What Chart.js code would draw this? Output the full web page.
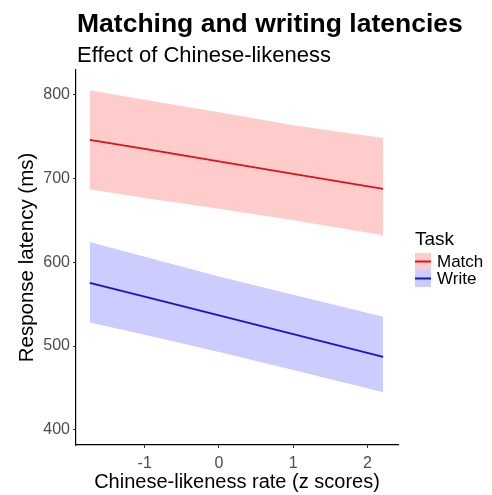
<!DOCTYPE html>
<html><head><meta charset="utf-8">
<script src="https://cdn.jsdelivr.net/npm/chart.js@4.4.0/dist/chart.umd.min.js"></script>
<style>html,body{margin:0;padding:0;background:#fff;}#wrap{width:492px;height:495px;}</style>
</head><body><div id="wrap"><canvas id="c" width="492" height="495"></canvas></div>
<script>
const xValues = [-1.74, -1, 0, 1, 2.21];
const matchFit = [745.8, 734.9, 720.1, 705.3, 687.4];
const matchUpper = [805, 793.5, 778.5, 763, 748];
const matchLower = [687, 676.5, 663.5, 650, 632];
const writeFit = [575.3, 558.8, 536.4, 514.1, 487.1];
const writeUpper = [624, 606.5, 583, 561, 535];
const writeLower = [528, 513.5, 493, 471.5, 445];
const xTicks = [-1, 0, 1, 2];
const yTicks = [400, 500, 600, 700, 800];
const seriesNames = ['Match', 'Write'];
const titleText = 'Matching and writing latencies';
const subtitleText = 'Effect of Chinese-likeness';
const legendTitle = 'Task';

const FONT = '"Liberation Sans", Arial, sans-serif';
const pts = arr => arr.map((v, i) => ({x: xValues[i], y: v}));
const matchLine = '#e0101c', matchFill = '#ffcccc';
const writeLine = '#1414cc', writeFill = '#ccccff';

const annot = {
  id: 'annot',
  afterDraw(chart) {
    const ctx = chart.ctx;
    ctx.save();
    ctx.textAlign = 'left';
    ctx.textBaseline = 'alphabetic';
    ctx.fillStyle = '#000';
    ctx.font = 'bold 26.5px ' + FONT;
    ctx.fillText(titleText, 77, 32);
    ctx.font = '22px ' + FONT;
    ctx.fillText(subtitleText, 77, 62);
    // legend
    ctx.font = '19px ' + FONT;
    ctx.fillText(legendTitle, 415, 245);
    const keys = [[matchFill, matchLine, 253], [writeFill, writeLine, 270]];
    keys.forEach((k, i) => {
      ctx.fillStyle = k[0];
      ctx.fillRect(415, k[2], 16, 17);
      ctx.strokeStyle = k[1];
      ctx.lineWidth = 2;
      ctx.beginPath();
      ctx.moveTo(415, k[2] + 8.5);
      ctx.lineTo(431, k[2] + 8.5);
      ctx.stroke();
      ctx.fillStyle = '#000';
      ctx.font = '17px ' + FONT;
      ctx.textBaseline = 'middle';
      ctx.fillText(seriesNames[i], 437, k[2] + 9);
      ctx.textBaseline = 'alphabetic';
    });
    ctx.restore();
  }
};

new Chart(document.getElementById('c'), {
  type: 'line',
  data: {
    datasets: [
      {data: pts(matchUpper), fill: 1, backgroundColor: matchFill, borderWidth: 0, pointRadius: 0, order: 2},
      {data: pts(matchLower), fill: false, borderWidth: 0, pointRadius: 0, order: 2},
      {data: pts(writeUpper), fill: 3, backgroundColor: writeFill, borderWidth: 0, pointRadius: 0, order: 2},
      {data: pts(writeLower), fill: false, borderWidth: 0, pointRadius: 0, order: 2},
      {label: seriesNames[0], data: pts(matchFit), borderColor: matchLine, borderWidth: 1.8, pointRadius: 0, fill: false, order: 0},
      {label: seriesNames[1], data: pts(writeFit), borderColor: writeLine, borderWidth: 1.8, pointRadius: 0, fill: false, order: 0}
    ]
  },
  options: {
    responsive: false,
    animation: false,
    devicePixelRatio: 1,
    layout: {padding: {left: 0, right: 94, top: 70, bottom: 0}},
    plugins: {legend: {display: false}, tooltip: {enabled: false}, title: {display: false}},
    scales: {
      x: {
        type: 'linear', min: -1.925, max: 2.41,
        afterFit: s => { s.height = 50; },
        afterBuildTicks: s => { s.ticks = xTicks.map(v => ({value: v})); },
        grid: {display: true, drawOnChartArea: false, drawTicks: true, tickLength: 3, color: '#333', lineWidth: 1},
        border: {display: true, color: '#000', width: 1.2},
        ticks: {color: '#4d4d4d', font: {family: FONT, size: 16}, padding: 6, maxRotation: 0},
        title: {display: true, text: 'Chinese-likeness rate (z scores)', color: '#000', font: {family: FONT, size: 20}, padding: {top: 0, bottom: 1}}
      },
      y: {
        type: 'linear', min: 382, max: 829,
        afterFit: s => { s.width = 76; },
        afterBuildTicks: s => { s.ticks = yTicks.map(v => ({value: v})); },
        grid: {display: true, drawOnChartArea: false, drawTicks: true, tickLength: 3, color: '#333', lineWidth: 1},
        border: {display: true, color: '#000', width: 1.2},
        ticks: {color: '#4d4d4d', font: {family: FONT, size: 16}, padding: 3},
        title: {display: true, text: 'Response latency (ms)', color: '#000', font: {family: FONT, size: 20.5}, padding: {top: 15, bottom: 0}}
      }
    }
  },
  plugins: [annot]
});
</script>
</body></html>
